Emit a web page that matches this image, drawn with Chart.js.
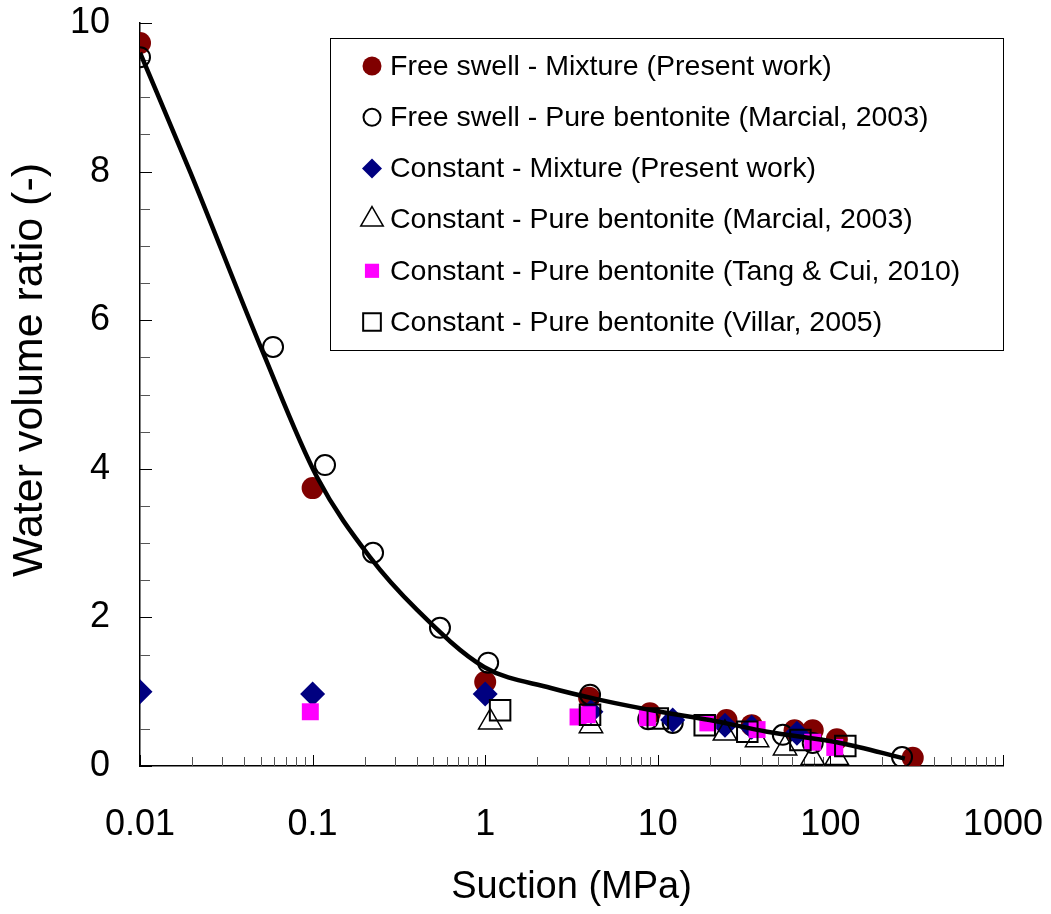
<!DOCTYPE html>
<html>
<head>
    <meta charset="UTF-8">
    <title>Water volume ratio vs suction</title>
    <script src="https://cdn.jsdelivr.net/npm/chart.js"></script>
    <style>
        body {
            margin: 0;
            background-color: white;
        }
        canvas {
            display: block;
        }
    </style>
</head>
<body>
    <canvas id="myChart" width="1051" height="914"></canvas>

    <script>
        // data (suction in MPa, water volume ratio -)
        const freeMixX = [0.01, 0.1, 1, 4, 9, 25, 35, 62, 79, 109, 300];
        const freeMixY = [9.73, 3.74, 1.13, 0.92, 0.71, 0.62, 0.55, 0.48, 0.48, 0.36, 0.11];

        const freeBentX = [0.01, 0.059, 0.118, 0.224, 0.547, 1.04, 4.05, 8.8, 12.2, 53, 79, 260];
        const freeBentY = [9.54, 5.64, 4.05, 2.87, 1.86, 1.39, 0.96, 0.63, 0.58, 0.42, 0.31, 0.12];

        const constMixX = [0.01, 0.1, 1, 4.1, 12.2, 24.5, 35, 64];
        const constMixY = [1.0, 0.97, 0.97, 0.73, 0.62, 0.55, 0.52, 0.44];

        const constMarcialX = [1.07, 4.1, 24.5, 37.6, 54.6, 79, 109];
        const constMarcialY = [0.59, 0.54, 0.44, 0.35, 0.24, 0.11, 0.11];

        const constTangX = [0.097, 3.45, 3.9, 8.7, 19.5, 37.6, 79, 106];
        const constTangY = [0.73, 0.66, 0.69, 0.65, 0.58, 0.49, 0.32, 0.25];

        const constVillarX = [1.22, 4.05, 10, 18.7, 33, 67, 122];
        const constVillarY = [0.75, 0.69, 0.64, 0.55, 0.46, 0.35, 0.27];

        const curveX = [0.01, 0.0195, 0.0517, 0.106, 0.215, 0.403, 0.99, 2.4, 4.62, 10.3, 20, 43, 114, 270];
        const curveY = [9.6, 8.0, 5.56, 3.89, 2.81, 2.10, 1.33, 1.05, 0.89, 0.73, 0.62, 0.46, 0.31, 0.1];

        const xDecades = [0.01, 0.1, 1, 10, 100, 1000];
        const xTickLabels = ['0.01', '0.1', '1', '10', '100', '1000'];
        const yTickLabels = ['0', '2', '4', '6', '8', '10'];

        const seriesNames = [
            'Free swell - Mixture (Present work)',
            'Free swell - Pure bentonite (Marcial, 2003)',
            'Constant - Mixture (Present work)',
            'Constant - Pure bentonite (Marcial, 2003)',
            'Constant - Pure bentonite (Tang & Cui, 2010)',
            'Constant - Pure bentonite (Villar, 2005)'
        ];

        const FONT = "'Liberation Sans', Arial, sans-serif";
        const NONE = 'rgba(0,0,0,0)';

        function pts(xs, ys) {
            return xs.map((x, i) => ({ x: x, y: ys[i] }));
        }

        // minor ticks 1..9 for every decade
        const xTickValues = [];
        for (let e = -2; e <= 3; e++) {
            for (let m = 1; m <= 9; m++) {
                const v = m * Math.pow(10, e);
                if (v <= 1000.0001) xTickValues.push(+v.toPrecision(6));
            }
        }

        const markers = [
            { style: 'circle', radius: 11, bg: '#800000', border: '#800000', bw: 0, lr: 9.5 },
            { style: 'circle', radius: 10, bg: NONE, border: '#000', bw: 2, lr: 8.5 },
            { style: 'rectRot', radius: 12.5, bg: '#000080', border: '#000080', bw: 0, lr: 10 },
            { style: 'triangle', radius: 13.5, bg: NONE, border: '#000', bw: 1.5, lr: 13 },
            { style: 'rect', radius: 12, bg: '#ff00ff', border: '#ff00ff', bw: 0, lr: 10 },
            { style: 'rect', radius: 14.5, bg: NONE, border: '#000', bw: 2, lr: 12.5 }
        ];

        const seriesData = [
            pts(freeMixX, freeMixY),
            pts(freeBentX, freeBentY),
            pts(constMixX, constMixY),
            pts(constMarcialX, constMarcialY),
            pts(constTangX, constTangY),
            pts(constVillarX, constVillarY)
        ];

        const datasets = seriesData.map((d, i) => ({
            label: seriesNames[i],
            data: d,
            pointStyle: markers[i].style,
            pointRadius: markers[i].radius,
            pointHoverRadius: markers[i].radius,
            backgroundColor: markers[i].bg,
            borderColor: markers[i].border,
            borderWidth: markers[i].bw,
            showLine: false,
            order: 6 - i
        }));

        datasets.push({
            label: 'fit',
            data: pts(curveX, curveY),
            showLine: true,
            borderColor: '#000',
            borderWidth: 4.5,
            pointRadius: 0,
            cubicInterpolationMode: 'monotone',
            order: 0
        });

        // no extra room for overhanging tick labels, keep the plot box fixed
        function noPad(s) {
            s.paddingTop = 0;
            s.paddingBottom = 0;
            s.paddingLeft = 0;
            s.paddingRight = 0;
        }

        // tick marks drawn inside the plot, Excel style
        const innerTicks = {
            id: 'innerTicks',
            beforeDatasetsDraw(chart) {
                const ctx = chart.ctx;
                const area = chart.chartArea;
                const xs = chart.scales.x;
                const ys = chart.scales.y;
                ctx.save();
                ctx.lineWidth = 1;
                xTickValues.forEach(v => {
                    const major = Math.abs(Math.log10(v) - Math.round(Math.log10(v))) < 1e-6;
                    const px = Math.round(xs.getPixelForValue(v)) + 0.5;
                    ctx.strokeStyle = major ? '#000' : '#555';
                    ctx.beginPath();
                    ctx.moveTo(px, area.bottom);
                    ctx.lineTo(px, area.bottom - (major ? 11 : 9));
                    ctx.stroke();
                });
                for (let v = 0; v <= 10; v += 0.5) {
                    const major = v % 2 === 0;
                    const py = Math.round(ys.getPixelForValue(v)) + 0.5;
                    ctx.strokeStyle = major ? '#000' : '#555';
                    ctx.beginPath();
                    ctx.moveTo(area.left, py);
                    ctx.lineTo(area.left + (major ? 12 : 10), py);
                    ctx.stroke();
                }
                ctx.restore();
            }
        };

        // boxed legend inside the plot + y title (sits a bit above centre like the original)
        const boxLegend = {
            id: 'boxLegend',
            afterDraw(chart) {
                const ctx = chart.ctx;
                const left = 330, top = 38, right = 1003, bottom = 350;
                ctx.save();
                ctx.fillStyle = 'white';
                ctx.fillRect(left, top, right - left, bottom - top);
                ctx.strokeStyle = '#000';
                ctx.lineWidth = 1;
                ctx.strokeRect(left + 0.5, top + 0.5, right - left, bottom - top);
                ctx.font = '28.5px ' + FONT;
                ctx.textBaseline = 'middle';
                seriesNames.forEach((name, i) => {
                    const y = 66 + i * 51.2;
                    const m = markers[i];
                    ctx.fillStyle = m.bg;
                    ctx.strokeStyle = m.border;
                    ctx.lineWidth = m.bw;
                    Chart.helpers.drawPoint(ctx, {
                        pointStyle: m.style,
                        radius: m.lr,
                        rotation: 0,
                        borderWidth: m.bw
                    }, 372, y);
                    ctx.fillStyle = '#000';
                    ctx.fillText(name, 390, y + 1);
                });

                ctx.translate(30, 370);
                ctx.rotate(-Math.PI / 2);
                ctx.font = '43px ' + FONT;
                ctx.textAlign = 'center';
                ctx.fillStyle = '#000';
                ctx.fillText('Water volume ratio (-)', 0, 0);
                ctx.restore();
            }
        };

        const ctx = document.getElementById('myChart').getContext('2d');
        const chart = new Chart(ctx, {
            type: 'scatter',
            data: { datasets: datasets },
            plugins: [innerTicks, boxLegend],
            options: {
                responsive: false,
                animation: false,
                devicePixelRatio: 1,
                layout: {
                    padding: { top: 23, right: 48, left: 0, bottom: 0 }
                },
                plugins: {
                    legend: { display: false },
                    tooltip: { enabled: false }
                },
                scales: {
                    x: {
                        type: 'logarithmic',
                        min: 0.01,
                        max: 1000,
                        afterBuildTicks: s => {
                            s.ticks = xTickValues.map(v => ({ value: v }));
                        },
                        afterFit: s => { s.height = 148; noPad(s); },
                        grid: { display: false, drawTicks: false },
                        border: { display: true, color: '#000', width: 1.5 },
                        ticks: {
                            autoSkip: false,
                            maxRotation: 0,
                            padding: 37,
                            color: '#000',
                            font: { family: FONT, size: 36 },
                            callback: function (value) {
                                const k = xDecades.findIndex(d => Math.abs(d - value) < d * 1e-6);
                                return k >= 0 ? xTickLabels[k] : '';
                            }
                        },
                        title: {
                            display: true,
                            text: 'Suction (MPa)',
                            color: '#000',
                            font: { family: FONT, size: 38 },
                            padding: { top: 0, bottom: 4 }
                        }
                    },
                    y: {
                        min: 0,
                        max: 10,
                        afterBuildTicks: s => {
                            s.ticks = yTickLabels.map(t => ({ value: +t }));
                        },
                        afterFit: s => { s.width = 140; noPad(s); },
                        grid: { display: false, drawTicks: false },
                        border: { display: true, color: '#000', width: 1.5 },
                        ticks: {
                            padding: 30,
                            color: '#000',
                            font: { family: FONT, size: 36 },
                            callback: value => String(value)
                        }
                    }
                }
            }
        });
    </script>
</body>
</html>
